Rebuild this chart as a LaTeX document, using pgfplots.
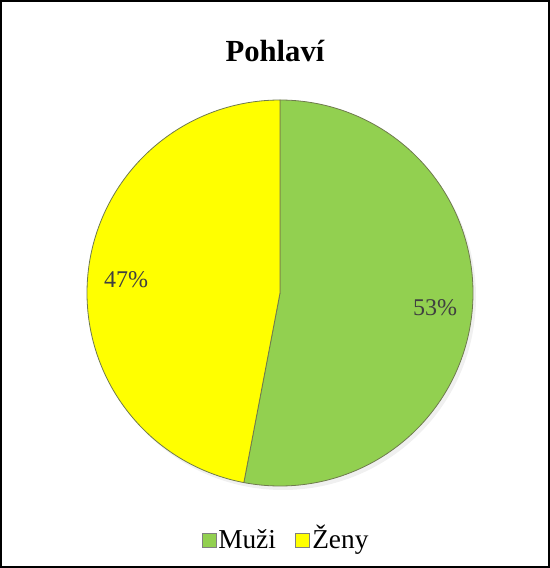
\documentclass[border=0pt]{standalone}
\usepackage{fontspec}
\setmainfont{Liberation Serif}
\usepackage{pgfplots}
\usepackage{pgfplotstable}
\pgfplotsset{compat=1.18}
\definecolor{mgreen}{HTML}{92D050}
\definecolor{myellow}{HTML}{FFFF00}
\definecolor{edge}{HTML}{6F7A4E}
\definecolor{lab}{HTML}{404040}
\pgfplotstableread{
label value
Muzi 53
Zeny 47
}\piedata
\pgfplotstablegetelem{0}{value}\of\piedata \let\muzi\pgfplotsretval
\pgfplotstablegetelem{1}{value}\of\piedata \let\zeny\pgfplotsretval
\begin{document}
\begin{tikzpicture}
\pgfmathsetmacro{\endang}{90-\muzi*3.6}
\begin{axis}[
  at={(0,0)}, anchor=origin,
  scale only axis, width=412.5pt, height=426pt,
  xmin=0, xmax=550, ymin=0, ymax=568,
  hide axis, clip=false,
]
% frame
\draw[black, line width=0.9pt] (1,1) rectangle (549,567);
% shadow
\fill[black, opacity=0.06] (283,271) circle[x radius=25.2pt*193/33.6, y radius=25.2pt*193/33.6];
% wedges
\addplot[fill=mgreen, draw=edge, line width=0.6pt, domain=90:\endang, samples=240]
  ({280+193*cos(x)},{275+193*sin(x)}) -- (280,275) -- cycle;
\addplot[fill=myellow, draw=edge, line width=0.6pt, domain=\endang:-270, samples=240]
  ({280+193*cos(x)},{275+193*sin(x)}) -- (280,275) -- cycle;
% labels
\node[text=lab, font=\fontsize{18}{20}\selectfont] at (126,288) {\zeny\%};
\node[text=lab, font=\fontsize{18}{20}\selectfont] at (435,260) {\muzi\%};
% title
\node[anchor=base, font=\fontsize{23}{26}\selectfont\bfseries] at (275,506) {Pohlaví};
% legend
\fill[mgreen, draw=gray, line width=0.5pt] (202,21) rectangle (216,35);
\node[anchor=base west, inner sep=0pt, font=\fontsize{20.5}{23}\selectfont] at (218,20) {Muži};
\fill[myellow, draw=gray, line width=0.5pt] (295,21) rectangle (309,35);
\node[anchor=base west, inner sep=0pt, font=\fontsize{20.5}{23}\selectfont] at (312,20) {Ženy};
\end{axis}
\pgfresetboundingbox
\path (0,0) rectangle (412.5pt,426pt);
\end{tikzpicture}
\end{document}
